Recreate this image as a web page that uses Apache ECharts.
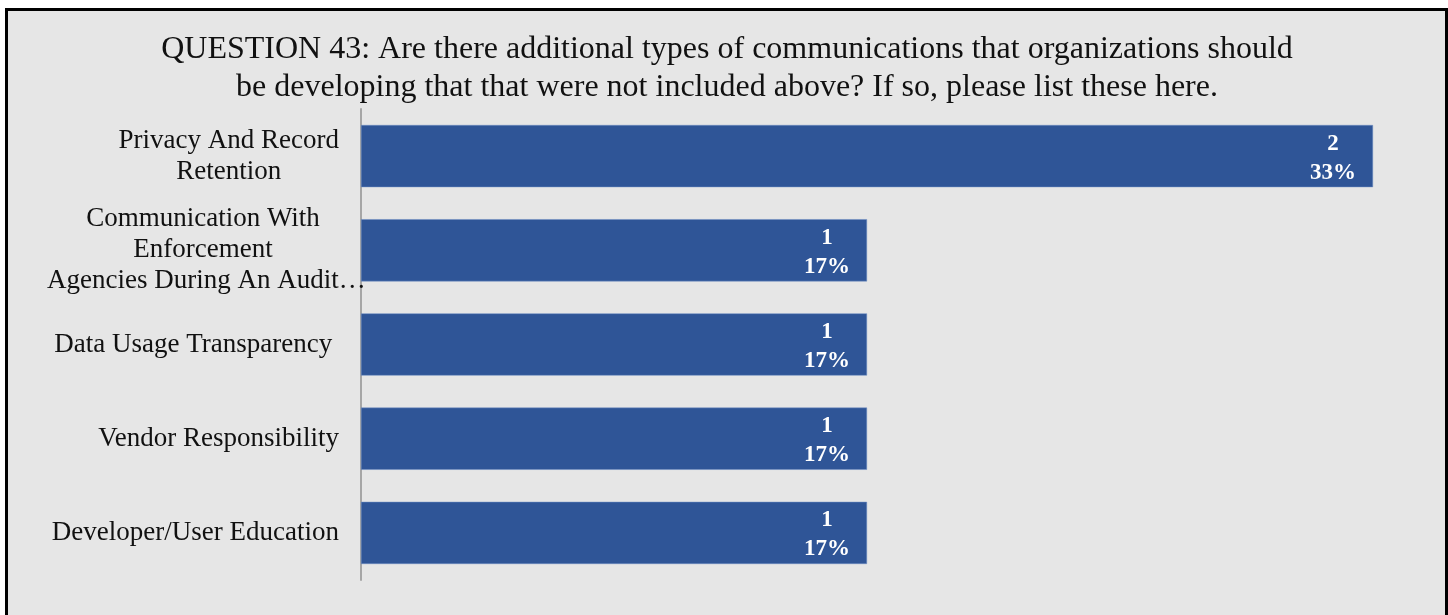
<!DOCTYPE html>
<html>
<head>
<meta charset="utf-8">
<script src="https://cdn.jsdelivr.net/npm/echarts@6/dist/echarts.min.js"></script>
<style>
  html, body { margin: 0; padding: 0; background: #ffffff; }
  #chart { width: 1448px; height: 615px; }
</style>
</head>
<body>
<div id="chart"></div>
<script>
// Responses, top to bottom
const categories = [
  'Privacy And Record\nRetention',
  'Communication With\nEnforcement\n Agencies During An Audit\u2026',
  'Data Usage Transparency ',
  'Vendor Responsibility',
  'Developer/User Education'
];
const counts = [2, 1, 1, 1, 1];
const percents = ['33%', '17%', '17%', '17%', '17%'];

const titleText = 'QUESTION 43: Are there additional types of communications that organizations should\n' +
  'be developing that that were not included above? If so, please list these here.';

const serif = '"Liberation Serif", "Times New Roman", serif';

const chart = echarts.init(document.getElementById('chart'), null, { renderer: 'canvas' });

const labelBase = {
  align: 'center',
  fontFamily: serif,
  fontSize: 27,
  lineHeight: 31,
  color: '#111111'
};

chart.setOption({
  backgroundColor: '#ffffff',
  animation: false,
  graphic: [{
    type: 'rect',
    z: -10,
    silent: true,
    shape: { x: 6.5, y: 9.5, width: 1440, height: 640 },
    style: { fill: '#e6e6e6', stroke: '#000000', lineWidth: 3 }
  }],
  title: {
    text: titleText,
    left: 727,
    top: 31,
    textAlign: 'center',
    padding: 0,
    textStyle: {
      fontFamily: serif,
      fontSize: 32,
      fontWeight: 'normal',
      color: '#111111',
      lineHeight: 38
    }
  },
  grid: {
    left: 361,
    right: 75,
    top: 109,
    bottom: 35,
    containLabel: false
  },
  xAxis: {
    type: 'value',
    min: 0,
    max: 2,
    show: false
  },
  yAxis: {
    type: 'category',
    inverse: true,
    data: categories,
    axisLine: { show: true, lineStyle: { color: '#a6a6a6', width: 2 } },
    axisTick: { show: false },
    splitLine: { show: false },
    axisLabel: {
      margin: 22,
      align: 'right',
      formatter: function (value) {
        // a truncated line ending in an ellipsis runs past the label box
        return value.split('\n').map(function (line) {
          return (line.indexOf('\u2026') >= 0 ? '{o|' : '{c|') + line + '}';
        }).join('\n');
      },
      rich: {
        c: labelBase,
        o: Object.assign({}, labelBase, { width: 272 })
      }
    }
  },
  series: [{
    type: 'bar',
    data: counts,
    barWidth: '66%',
    itemStyle: { color: '#2f5597', borderColor: '#6f8fc4', borderWidth: 0.5 },
    label: {
      show: true,
      position: 'insideRight',
      distance: 40,
      align: 'center',
      offset: [0, 2],
      formatter: function (p) { return p.value + '\n' + percents[p.dataIndex]; },
      fontFamily: serif,
      fontSize: 23,
      fontWeight: 'bold',
      lineHeight: 29,
      color: '#ffffff'
    }
  }]
});
</script>
</body>
</html>
